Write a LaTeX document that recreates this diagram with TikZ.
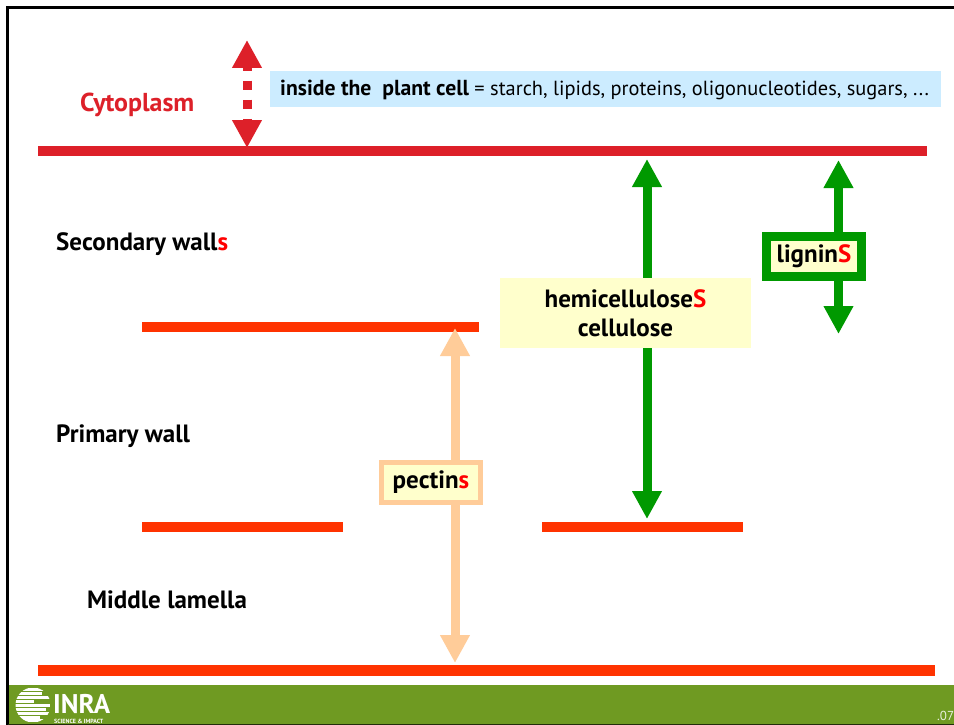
\documentclass[tikz,border=0pt]{standalone}
\usepackage{fontspec}
\setmainfont{PT Sans}
\usepackage{xcolor}
\definecolor{cytored}{HTML}{DD2029}
\definecolor{wallred}{HTML}{FF3300}
\definecolor{plusred}{HTML}{FF0000}
\definecolor{lightblue}{HTML}{CCECFF}
\definecolor{lightyellow}{HTML}{FFFFCC}
\definecolor{ligningreen}{HTML}{009900}
\definecolor{pectinorange}{HTML}{FFCC99}
\definecolor{footgreen}{HTML}{6F9A22}
\usetikzlibrary{arrows.meta}

\newcommand{\redS}[1]{\textcolor{plusred}{#1}}

\begin{document}
\begin{tikzpicture}[
  x=1pt, y=-1pt,
  wall/.style={line width=10pt, wallred},
  lab/.style={font=\fontsize{25}{29}\selectfont\bfseries, inner sep=0pt, anchor=west},
  tag/.style={fill=lightyellow, font=\fontsize{25}{29}\selectfont\bfseries, align=center, inner sep=0pt},
  arr/.style={{Triangle[length=28pt,width=28pt]}-{Triangle[length=28pt,width=28pt]}, line width=9pt}
]
  \useasboundingbox (0,0) rectangle (954,725);
  \fill[white] (0,0) rectangle (954,725);

  % frame and footer
  \fill[footgreen] (8,685) rectangle (954,725);
  \draw[line width=2.5pt, black] (7.5,725) -- (7.5,7.5) -- (954,7.5);
  \draw[line width=1.5pt, black!70!footgreen] (8,724.5) -- (954,724.5);

  % end points of the bars and arrows
  \coordinate (cytoL) at (38,151);
  \coordinate (cytoR) at (927,151);
  \coordinate (secL) at (142,327);
  \coordinate (secR) at (479,327);
  \coordinate (priL) at (142,526.5);
  \coordinate (priM) at (343,526.5);
  \coordinate (priN) at (542,526.5);
  \coordinate (priR) at (743,526.5);
  \coordinate (midL) at (38,670.5);
  \coordinate (midR) at (935,670.5);
  \coordinate (cytoTop) at (247,40);
  \coordinate (cytoBot) at (247,148);
  \coordinate (hemiTop) at (647,159);
  \coordinate (hemiBot) at (647,519);
  \coordinate (ligTop) at (838.5,160);
  \coordinate (ligBot) at (838.5,334);
  \coordinate (pecTop) at (455,328);
  \coordinate (pecBot) at (455,663);

  \draw[line width=10pt, cytored] (cytoL) -- (cytoR);
  \draw[wall] (secL) -- (secR);
  \draw[wall] (priL) -- (priM);
  \draw[wall] (priN) -- (priR);
  \draw[line width=11pt, wallred] (midL) -- (midR);

  \draw[arr, cytored, dash pattern=on 9.5pt off 9.5pt, dash phase=4.5pt] (cytoTop) -- (cytoBot);
  \draw[arr, ligningreen] (hemiTop) -- (hemiBot);
  \draw[arr, ligningreen] (ligTop) -- (ligBot);
  \draw[arr, pectinorange] (pecTop) -- (pecBot);

  \node[fill=lightblue, minimum width=671pt, minimum height=36pt, inner sep=0pt, anchor=west] (inside) at (270,89) {};
  \node[anchor=west, inner sep=0pt, font=\fontsize{20.4}{24}\selectfont] (insidetext) at (280,90)
    {{\fontsize{21.7}{24}\selectfont\bfseries inside the\ \ plant cell} = starch, lipids, proteins, oligonucleotides, sugars, ...};

  \node[lab, text=cytored, font=\fontsize{25.9}{29}\selectfont\bfseries] (cyto) at (80,105) {Cytoplasm};
  \node[lab] (sec) at (56,244) {Secondary wall\redS{s}};
  \node[lab] (pri) at (56,436) {Primary wall};
  \node[lab] (mid) at (87,600) {Middle lamella};

  \node[tag, minimum width=251pt, minimum height=70pt] (hemi) at (625.5,313) {hemicellulose\redS{S}\\cellulose};
  \node[tag, draw=ligningreen, line width=9pt, minimum width=95pt, minimum height=40pt] (lignin) at (814,256.5) {lignin\redS{S}};
  \node[tag, draw=pectinorange, line width=5pt, minimum width=99pt, minimum height=40pt] (pectin) at (431,482.5) {pectin\redS{s}};

  % logo
  \begin{scope}
    \clip (33,705) circle (17.5);
    \foreach \y/\a/\b in {688/20/46, 692/15/42, 696/15/51, 700/15/34, 703.5/15/51, 707.5/15/46, 711.5/15/51, 715.5/15/40, 719/18/50}
      \fill[white] (\a,\y) rectangle (\b,\y+3);
  \end{scope}
  \node[anchor=west, inner sep=0pt, white, font=\fontsize{27}{27}\selectfont\bfseries] (inra) at (53,704) {INRA};
  \node[anchor=west, inner sep=0pt, white, font=\fontsize{6}{6}\selectfont\bfseries] (science) at (54,721.5) {SCIENCE \& IMPACT};

  \node[anchor=west, inner sep=0pt, white!85!footgreen, font=\fontsize{13}{15}\selectfont] (page) at (937,716) {.07};
\end{tikzpicture}
\end{document}
